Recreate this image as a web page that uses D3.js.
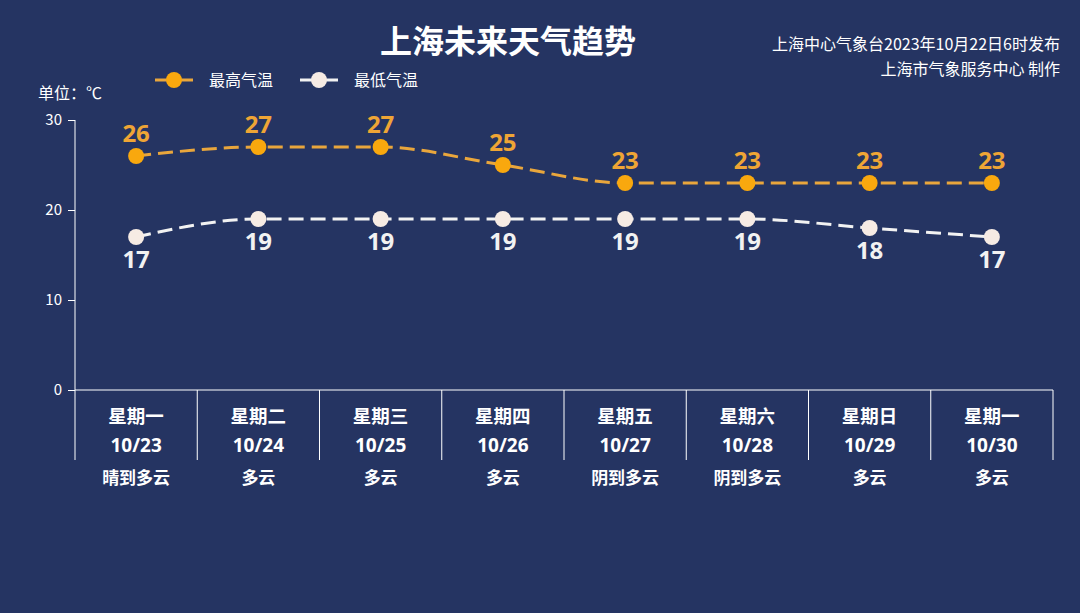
<!DOCTYPE html>
<html><head><meta charset="utf-8">
<script src="https://cdn.jsdelivr.net/npm/d3@7"></script>
<style>
html,body{margin:0;padding:0;background:#253462;}
svg{display:block;font-family:"Noto Sans CJK SC","Noto Sans",sans-serif;}
</style></head>
<body>
<svg id="c" width="1080" height="613"></svg>
<script>
const weekdays = ["星期一","星期二","星期三","星期四","星期五","星期六","星期日","星期一"];
const dates = ["10/23","10/24","10/25","10/26","10/27","10/28","10/29","10/30"];
const weather = ["晴到多云","多云","多云","多云","阴到多云","阴到多云","多云","多云"];
const highTemps = [26,27,27,25,23,23,23,23];
const lowTemps = [17,19,19,19,19,19,18,17];
const yTicks = [0,10,20,30];

const svg = d3.select("#c");
svg.append("rect").attr("width",1080).attr("height",613).attr("fill","#253462");

const pLeft=75, pRight=1053, pTop=120, pBottom=390, extBottom=460;
const x = d3.scaleBand().domain(d3.range(dates.length)).range([pLeft,pRight]);
const y = d3.scaleLinear().domain([0,30]).range([pBottom,pTop]);
const cx = i => x(i)+x.bandwidth()/2;

// title
svg.append("text").attr("x",508).attr("y",53).attr("text-anchor","middle")
  .attr("fill","#ffffff").attr("font-size",32).attr("font-weight","bold").text("上海未来天气趋势");
svg.append("text").attr("x",1060).attr("y",50).attr("text-anchor","end")
  .attr("fill","#ffffff").attr("font-size",16).text("上海中心气象台2023年10月22日6时发布");
svg.append("text").attr("x",1060).attr("y",75).attr("text-anchor","end")
  .attr("fill","#ffffff").attr("font-size",16).text("上海市气象服务中心 制作");

// unit
svg.append("text").attr("x",38).attr("y",99).attr("fill","#ffffff").attr("font-size",16).text("单位：℃");

// legend
const legend = [{name:"最高气温",line:"#e9a63c",dot:"#f9a80e",x:155},{name:"最低气温",line:"#f2f2f2",dot:"#f6ebe4",x:300}];
legend.forEach(l=>{
  const g=svg.append("g");
  g.append("line").attr("x1",l.x).attr("x2",l.x+38).attr("y1",80).attr("y2",80).attr("stroke",l.line).attr("stroke-width",3);
  g.append("circle").attr("cx",l.x+19).attr("cy",80).attr("r",8).attr("fill",l.dot);
  g.append("text").attr("x",l.x+54).attr("y",86).attr("fill","#ffffff").attr("font-size",16).text(l.name);
});

// y axis
const yAxis = d3.axisLeft(y).tickValues(yTicks).tickSize(7).tickPadding(6);
const ga = svg.append("g").attr("transform",`translate(${pLeft},0)`).call(yAxis);
ga.select(".domain").remove();
ga.selectAll(".tick line").attr("stroke","#ffffff");
ga.selectAll(".tick text").attr("fill","#ffffff").attr("font-size",15).attr("font-family","'Noto Sans CJK SC',sans-serif");
svg.append("line").attr("x1",pLeft).attr("x2",pLeft).attr("y1",pTop).attr("y2",extBottom).attr("stroke","#ffffff").attr("stroke-width",1);

// x axis line and dividers
svg.append("line").attr("x1",pLeft).attr("x2",pRight).attr("y1",pBottom).attr("y2",pBottom).attr("stroke","#ffffff").attr("stroke-width",1);
d3.range(1,dates.length+1).forEach(i=>{
  const xx = i<dates.length ? x(i) : pRight;
  svg.append("line").attr("x1",xx).attr("x2",xx).attr("y1",pBottom).attr("y2",extBottom).attr("stroke","#ffffff").attr("stroke-width",1);
});

// category labels
const cat = svg.append("g");
dates.forEach((d,i)=>{
  cat.append("text").attr("x",cx(i)).attr("y",423).attr("text-anchor","middle").attr("fill","#ffffff")
    .attr("font-size",18.5).attr("font-weight","bold").text(weekdays[i]);
  cat.append("text").attr("x",cx(i)).attr("y",452).attr("text-anchor","middle").attr("fill","#ffffff")
    .attr("font-size",19).attr("font-weight","bold").attr("font-family","'Noto Sans',sans-serif").text(d);
  cat.append("text").attr("x",cx(i)).attr("y",484).attr("text-anchor","middle").attr("fill","#ffffff")
    .attr("font-size",17).attr("font-weight","bold").text(weather[i]);
});

// lines
const line = d3.line().x((d,i)=>cx(i)).y(d=>y(d)).curve(d3.curveMonotoneX);
const series = [
  {vals:highTemps,line:"#e9a63c",dot:"#f9a80e",label:"#efa535",above:true},
  {vals:lowTemps,line:"#f2f2f2",dot:"#f6ebe4",label:"#f2f2f2",above:false}
];
series.forEach(s=>{
  svg.append("path").datum(s.vals).attr("d",line).attr("fill","none").attr("stroke",s.line)
    .attr("stroke-width",3).attr("stroke-dasharray","15,7");
  svg.selectAll(null).data(s.vals).enter().append("circle")
    .attr("cx",(d,i)=>cx(i)).attr("cy",d=>y(d)).attr("r",8).attr("fill",s.dot);
  svg.selectAll(null).data(s.vals).enter().append("text")
    .attr("x",(d,i)=>cx(i)).attr("y",d=>s.above? y(d)-14 : y(d)+31)
    .attr("text-anchor","middle").attr("fill",s.label).attr("font-size",24).attr("font-weight","bold")
    .attr("font-family","'Noto Sans',sans-serif").text(d=>d);
});
</script>
</body></html>
